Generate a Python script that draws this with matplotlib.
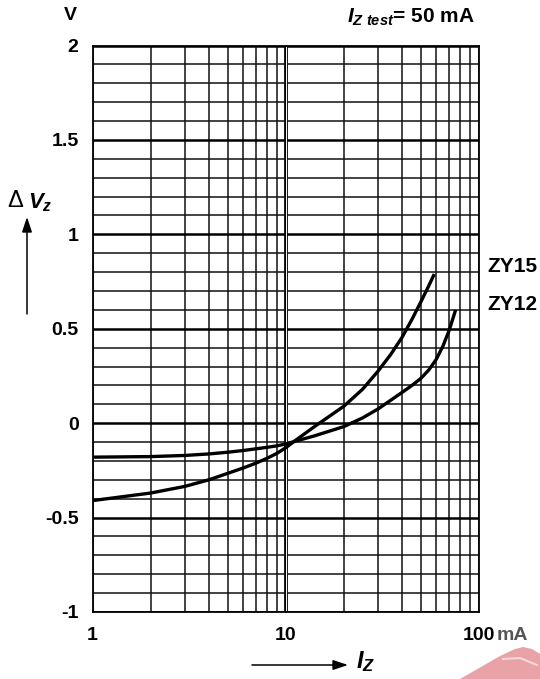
import numpy as np
import matplotlib
matplotlib.use("Agg")
import matplotlib.pyplot as plt
from matplotlib.patches import Polygon

plt.rcParams['font.family'] = ['Liberation Sans', 'DejaVu Sans']
plt.rcParams['mathtext.fontset'] = 'custom'
plt.rcParams['mathtext.it'] = 'Liberation Sans:italic:bold'
plt.rcParams['mathtext.rm'] = 'Liberation Sans:bold'
plt.rcParams['mathtext.bf'] = 'Liberation Sans:bold'

# curve data: Iz in mA, delta Vz in V
zy15_i = [1, 2, 3, 4, 5, 6, 7, 8, 9, 10, 11, 14, 20, 25, 30, 35, 40, 45, 50, 55, 58.7]
zy15_v = [-0.41, -0.37, -0.335, -0.30, -0.266, -0.238, -0.212, -0.186, -0.16, -0.13,
          -0.098, -0.02, 0.09, 0.18, 0.275, 0.365, 0.455, 0.55, 0.642, 0.728, 0.79]
zy12_i = [1, 2, 3, 4, 5, 6, 7, 8, 9, 10, 11, 14, 20, 25, 30, 35, 40, 45, 50, 55,
          60, 65, 70, 75.7]
zy12_v = [-0.18, -0.177, -0.171, -0.163, -0.154, -0.145, -0.136, -0.128, -0.12, -0.11,
          -0.098, -0.068, -0.018, 0.028, 0.075, 0.122, 0.163, 0.2, 0.237, 0.282,
          0.337, 0.407, 0.49, 0.60]

x_ticks = [1, 10, 100]
x_ticklabels = ['1', '10', '100']
y_ticks = [-1, -0.5, 0, 0.5, 1, 1.5, 2]
y_ticklabels = ['-1', '-0.5', '0', '0.5', '1', '1.5', '2']

W, H = 540, 679
fig = plt.figure(figsize=(W / 100, H / 100), dpi=100)
L, R, T, B = 92.5, 479, 45.5, 612
ax = fig.add_axes([L / W, 1 - B / H, (R - L) / W, (B - T) / H])
ax.set_xscale('log')
ax.set_xlim(1, 100)
ax.set_ylim(-1, 2)

# grid
x_grid = list(range(1, 10)) + list(range(20, 101, 10))
for xg in x_grid:
    ax.axvline(xg, color='#111111', lw=1.1, zorder=1)
# double line at 10
ax.axvline(10, color='black', lw=2.7, zorder=1)
ax.axvline(10, color='white', lw=0.7, zorder=1.1)
for k in range(-10, 21):
    yg = k / 10
    if k % 5 == 0:
        ax.axhline(yg, color='black', lw=1.8, zorder=1)
    else:
        ax.axhline(yg, color='#111111', lw=1.1, zorder=1)

ax.plot(zy15_i, zy15_v, color='black', lw=2.4, zorder=3,
        solid_capstyle='butt', solid_joinstyle='round')
ax.plot(zy12_i, zy12_v, color='black', lw=2.4, zorder=3,
        solid_capstyle='butt', solid_joinstyle='round')

for s in ax.spines.values():
    s.set_linewidth(1.3)

ax.set_xticks(x_ticks)
ax.set_xticklabels(x_ticklabels, fontsize=14, fontweight='bold')
ax.set_xticks([], minor=True)
ax.set_yticks(y_ticks)
ax.set_yticklabels(y_ticklabels, fontsize=14, fontweight='bold')
ax.tick_params(axis='both', length=0)
ax.tick_params(axis='x', pad=11)
ax.tick_params(axis='y', pad=10)


def px(x, y):
    return x / W, 1 - y / H


fig.text(*px(497, 636), 'mA', fontsize=14, fontweight='bold', color='#555555',
         ha='left', va='center')
fig.text(*px(70, 16), 'V', fontsize=14, fontweight='bold', ha='center', va='center')
fig.text(*px(487, 267), 'ZY15', fontsize=15, fontweight='bold', ha='left', va='center')
fig.text(*px(487, 304), 'ZY12', fontsize=15, fontweight='bold', ha='left', va='center')
fig.text(*px(475, 17), r'$I_{Z\ test}$= 50 mA', fontsize=15, fontweight='bold',
         ha='right', va='center')

# y axis label with arrow
fig.text(*px(7, 201), '\u0394', fontsize=17, ha='left', va='center')
fig.text(*px(28, 203), r'$V_z$', fontsize=16, ha='left', va='center')
fig.add_artist(plt.Annotation('', xy=px(27, 217), xytext=px(27, 314),
                              xycoords='figure fraction', textcoords='figure fraction',
                              arrowprops=dict(arrowstyle='-|>,head_length=0.9,head_width=0.3',
                                              color='black', lw=1.1, shrinkA=0, shrinkB=0)))
# x axis label with arrow
fig.add_artist(plt.Annotation('', xy=px(348, 665), xytext=px(252, 665),
                              xycoords='figure fraction', textcoords='figure fraction',
                              arrowprops=dict(arrowstyle='-|>,head_length=0.9,head_width=0.3',
                                              color='black', lw=1.1, shrinkA=0, shrinkB=0)))
fig.text(*px(356, 662), r'$I_Z$', fontsize=17, ha='left', va='center')

# faint watermark swoosh in the corner
wm = Polygon([px(460, 679), px(500, 656), px(515, 649), px(523, 647), px(532, 649),
              px(540, 654), px(540, 679)], closed=True,
             transform=fig.transFigure, facecolor='#e9a2a7', edgecolor='none', zorder=0)
fig.add_artist(wm)
fig.add_artist(plt.Line2D([px(503, 659)[0], px(520, 658)[0], px(537, 665)[0]],
                          [px(503, 659)[1], px(520, 658)[1], px(537, 665)[1]],
                          transform=fig.transFigure, color='#f6d9db', lw=1.5))

fig.savefig('out.png', dpi=100)
